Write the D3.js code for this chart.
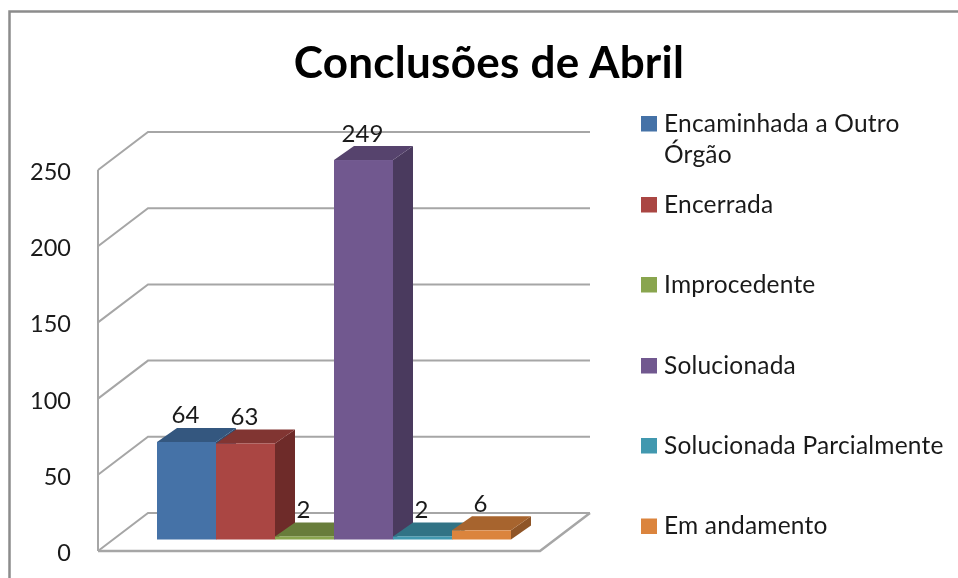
<!DOCTYPE html>
<html><head><meta charset="utf-8">
<script src="https://cdn.jsdelivr.net/npm/d3@7/dist/d3.min.js"></script>
<style>html,body{margin:0;padding:0;background:#fff}svg{display:block;filter:blur(0.45px)}</style>
</head><body><svg id="c" width="958" height="578"></svg>
<script>
const categories = ["Encaminhada a Outro Órgão","Encerrada","Improcedente","Solucionada","Solucionada Parcialmente","Em andamento"];
const values = [64,63,2,249,2,6];
const colors = ["#4572a7","#aa4643","#89a54e","#71588f","#4198af","#db843d"];
const topColors = ["#34577f","#813532","#687d3b","#56436d","#317385","#a7642e"];
const sideColors = ["#2f4f74","#6e2b29","#5f7236","#4a3a5e","#2d697a","#8f5527"];
const yTicks = [0,50,100,150,200,250];
const title = "Conclusões de Abril";
const legendLines = [["Encaminhada a Outro","Órgão"],["Encerrada"],["Improcedente"],["Solucionada"],["Solucionada Parcialmente"],["Em andamento"]];
const legendY = [123.5,204.5,284.5,365.5,445.5,526];

const font = "Lato, 'Open Sans', sans-serif";
const svg = d3.select("#c");
const grid = "#a6a6a6";
const y = d3.scaleLinear().domain([0,250]).range([551,170]);
const x = d3.scaleBand().domain(categories).range([157,511]).padding(0);
const depthX = 50, depthY = 38;
const barDX = 20, barDY = 14, baseLift = 11.5;

svg.append("path").attr("d","M958,11.5H9.5V578").attr("fill","none").attr("stroke","#8c8c8c").attr("stroke-width",2.5);

const g = svg.append("g").attr("fill","none").attr("stroke",grid).attr("stroke-width",2);
g.append("path").attr("d",`M${98},${y(250)}V${y(0)}`);
g.selectAll(".gl").data(yTicks).join("path")
 .attr("d",d=>`M98,${y(d)}L${98+depthX},${y(d)-depthY}H${98+442+depthX}`);
g.append("path").attr("d",`M98,${y(0)}H540L${540+depthX},${y(0)-depthY}`).attr("stroke-width",2.5);

svg.append("g").selectAll("text").data(yTicks).join("text")
 .attr("x",71).attr("y",d=>y(d)+10).attr("text-anchor","end")
 .attr("font-family",font).attr("font-size",23.5).attr("fill","#1a1a1a").text(d=>d);

const by = v => y(v) - baseLift;
const bars = svg.append("g").selectAll("g").data(categories.map((c,i)=>({c,i,v:values[i]}))).join("g");
bars.append("path").attr("fill",d=>sideColors[d.i]).attr("d",d=>{
  const r=x(d.c)+x.bandwidth();
  return `M${r},${by(d.v)}l${barDX},${-barDY}V${by(0)-barDY}L${r},${by(0)}Z`;});
bars.append("path").attr("fill",d=>topColors[d.i]).attr("d",d=>{
  const l=x(d.c), w=x.bandwidth();
  return `M${l},${by(d.v)}l${barDX},${-barDY}h${w}l${-barDX},${barDY}Z`;});
bars.append("rect").attr("fill",d=>colors[d.i]).attr("x",d=>x(d.c)).attr("y",d=>by(d.v))
  .attr("width",x.bandwidth()).attr("height",d=>by(0)-by(d.v));
bars.append("text").attr("x",d=>x(d.c)+x.bandwidth()/2-1).attr("y",d=>by(d.v)-barDY-4.5)
  .attr("text-anchor","middle").attr("font-family",font).attr("font-size",24).attr("fill","#1a1a1a").text(d=>d.v);

svg.append("text").attr("x",489).attr("y",78).attr("text-anchor","middle").attr("font-family",font)
 .attr("font-size",44).attr("letter-spacing",0.25).attr("font-weight",700).attr("fill","#000").text(title);

const lg = svg.append("g").selectAll("g").data(legendLines).join("g")
 .attr("transform",(d,i)=>`translate(0,${legendY[i]})`);
lg.append("rect").attr("x",641).attr("y",-7.5).attr("width",16).attr("height",15.5).attr("fill",(d,i)=>colors[i]);
lg.selectAll("text").data(d=>d).join("text").attr("x",664).attr("y",(d,i)=>i*31+8)
 .attr("font-family",font).attr("font-size",24.5).attr("letter-spacing",0.2).attr("fill","#1a1a1a").text(d=>d);
</script></body></html>
